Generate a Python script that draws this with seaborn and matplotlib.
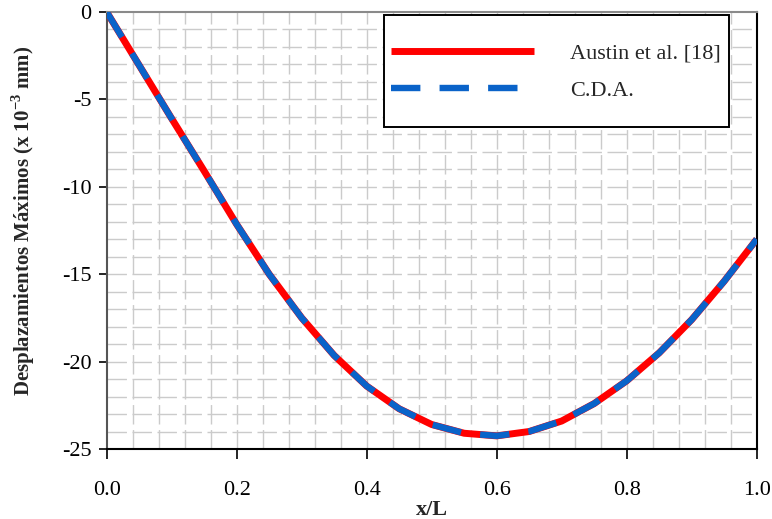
import numpy as np
import pandas as pd
import matplotlib
matplotlib.use("Agg")
import matplotlib.pyplot as plt
from matplotlib.patches import Rectangle
import seaborn as sns

x_over_L = [0.0, 0.05, 0.1, 0.15, 0.2, 0.25, 0.3, 0.35, 0.4, 0.45, 0.5,
            0.55, 0.6, 0.65, 0.7, 0.75, 0.8, 0.85, 0.9, 0.95, 1.0]
austin = [0.0, -3.05, -6.1, -9.1, -12.15, -15.0, -17.5, -19.65, -21.4, -22.7, -23.6,
          -24.1, -24.25, -24.0, -23.4, -22.4, -21.1, -19.5, -17.6, -15.4, -13.0]
cda = list(austin)
series_names = ["Austin et al. [18]", "C.D.A."]
x_ticks = [0.0, 0.2, 0.4, 0.6, 0.8, 1.0]
y_ticks = [0, -5, -10, -15, -20, -25]

sns.set_theme(style="white")
plt.rcParams['font.family'] = ['Liberation Serif', 'DejaVu Serif']
plt.rcParams['mathtext.fontset'] = 'custom'
plt.rcParams['mathtext.rm'] = 'Liberation Serif'
plt.rcParams['mathtext.bf'] = 'Liberation Serif:bold'
plt.rcParams['axes.unicode_minus'] = False

df = pd.DataFrame({
    "x": x_over_L + x_over_L,
    "y": austin + cda,
    "s": [series_names[0]] * len(x_over_L) + [series_names[1]] * len(x_over_L),
})

fig = plt.figure(figsize=(7.72, 5.19), dpi=100)
ax = fig.add_axes([0.1382, 0.1349, 0.842, 0.842])

ax.set_xlim(0, 1.0)
ax.set_ylim(-25, 0)

# broken grey grid
grid_kw = dict(color="#cbcbcb", lw=1.0, ls=(0, (14, 4)), zorder=0)
for gx in np.arange(0.04, 0.999, 0.04):
    ax.axvline(gx, **grid_kw)
for gy in np.arange(-24, 0, 1):
    ax.axhline(gy, **grid_kw)

sns.lineplot(data=df[df.s == series_names[0]], x="x", y="y", ax=ax,
             color="#ff0000", lw=5.0, label=series_names[0], zorder=3)
sns.lineplot(data=df[df.s == series_names[1]], x="x", y="y", ax=ax,
             color="#0a63c9", lw=4.6, label=series_names[1], zorder=4)
red_line, blue_line = ax.lines[-2], ax.lines[-1]
red_line.set_solid_capstyle("butt")
red_line.set_solid_joinstyle("round")
blue_line.set_linestyle((0, (4.6, 3.0)))
blue_line.set_dash_capstyle("butt")
blue_line.set_dash_joinstyle("round")

ax.set_xticks(x_ticks)
ax.set_xticklabels([f"{v:.1f}" for v in x_ticks])
ax.set_yticks(y_ticks)
ax.set_yticklabels([f"{v:d}" for v in y_ticks])
ax.tick_params(axis="both", direction="out", width=1.2, labelsize=16,
               colors="black", bottom=True, left=True)
ax.tick_params(axis="x", length=7, pad=16)
ax.tick_params(axis="y", length=6, pad=5)

for side in ["bottom", "right"]:
    ax.spines[side].set_color("black")
    ax.spines[side].set_linewidth(1.5)
ax.spines["left"].set_color("#555555")
ax.spines["left"].set_linewidth(1.5)
ax.spines["top"].set_color("#8a8a8a")
ax.spines["top"].set_linewidth(1.5)

ax.set_xlabel("x/L", fontsize=16, fontweight="bold", labelpad=0)
ax.set_ylabel(r"Desplazamientos Máximos (x 10$^{\mathbf{-3}}$ mm)", fontsize=15,
              fontweight="bold")
ax.yaxis.set_label_coords(-0.107, 0.522)

# legend box
ax.add_patch(Rectangle((0.4266, 0.7368), 0.9574 - 0.4266, 0.9931 - 0.7368,
                       transform=ax.transAxes, facecolor="white", edgecolor="black",
                       lw=1.4, zorder=5))
leg = ax.legend(loc="center left", bbox_to_anchor=(0.4374, 0.862), frameon=False,
                fontsize=16, handlelength=6.45, handletextpad=1.6, borderpad=0,
                labelspacing=0.75, borderaxespad=0)
leg.set_zorder(6)

fig.savefig("out.png", dpi=100)
